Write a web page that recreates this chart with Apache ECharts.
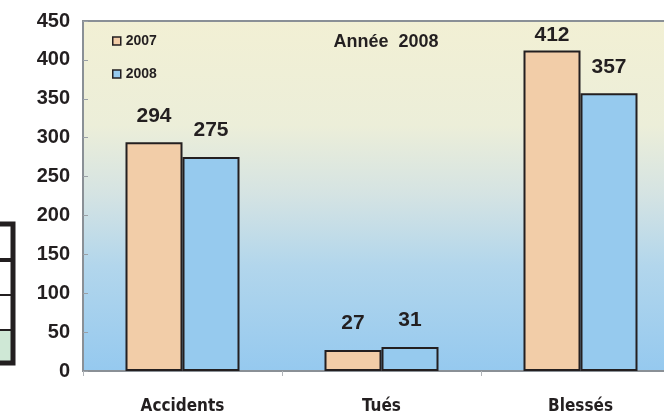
<!DOCTYPE html>
<html>
<head>
<meta charset="utf-8" />
<script src="https://cdn.jsdelivr.net/npm/echarts@6/dist/echarts.min.js"></script>
<style>
  html, body { margin: 0; padding: 0; background: #fff; }
  #main { width: 664px; height: 415px; }
</style>
</head>
<body>
<div id="main"></div>
<script>
// données
const categories = ["Accidents", "Tués", "Blessés"];
const seriesNames = ["2007", "2008"];
const values2007 = [294, 27, 412];
const values2008 = [275, 31, 357];
const yTicks = [0, 50, 100, 150, 200, 250, 300, 350, 400, 450];

const FONT = "'Liberation Sans', Arial, sans-serif";
const CONDENSED = "'DejaVu Sans Condensed', 'Liberation Sans', sans-serif";
const INK = "#231f20";

const myChart = echarts.init(document.getElementById("main"));

const barLabel = {
  show: true,
  position: "top",
  distance: 16,
  color: INK,
  fontFamily: FONT,
  fontWeight: "bold",
  fontSize: 21,
};

// le libellé 412 est collé à la barre dans l'original
const data2007 = values2007.map((v, i) =>
  i === 2 ? { value: v, label: { distance: 5 } } : v
);

const option = {
  animation: false,
  backgroundColor: "#fff",
  title: {
    text: "Année  2008",
    left: 381,
    top: 28,
    textAlign: "center",
    textStyle: {
      fontFamily: FONT,
      fontWeight: "bold",
      fontSize: 18,
      color: INK,
    },
  },
  legend: {
    orient: "vertical",
    left: 107,
    top: 29,
    itemGap: 19,
    itemWidth: 8,
    itemHeight: 8,
    icon: "rect",
    textStyle: { fontFamily: FONT, fontSize: 14, fontWeight: "bold", color: INK },
    data: seriesNames.map((n) => ({
      name: n,
      itemStyle: { borderColor: INK, borderWidth: 1.5 },
    })),
  },
  grid: {
    left: 83,
    top: 21,
    width: 597,
    height: 350,
    outerBoundsMode: "none",
    show: true,
    borderColor: "#8a9096",
    borderWidth: 2,
    backgroundColor: new echarts.graphic.LinearGradient(0, 0, 0, 1, [
      { offset: 0, color: "#f2f0d4" },
      { offset: 0.3, color: "#eceed9" },
      { offset: 0.5, color: "#d4e3e3" },
      { offset: 0.7, color: "#b2d6ec" },
      { offset: 1, color: "#95c9ef" },
    ]),
  },
  xAxis: {
    type: "category",
    data: categories,
    axisLine: { lineStyle: { color: "#8a9096", width: 2 } },
    axisTick: { show: true, length: 5, lineStyle: { color: "#b0b4b8" } },
    axisLabel: {
      margin: 27,
      color: INK,
      fontFamily: CONDENSED,
      fontWeight: "bold",
      fontSize: 17,
    },
  },
  yAxis: {
    type: "value",
    min: yTicks[0],
    max: yTicks[yTicks.length - 1],
    interval: yTicks[1] - yTicks[0],
    splitLine: { show: false },
    axisLine: { show: true, lineStyle: { color: "#8a9096", width: 2 } },
    axisTick: { show: true, inside: true, length: 5, lineStyle: { color: "#9aa0a6" } },
    axisLabel: {
      margin: 13,
      color: INK,
      fontFamily: FONT,
      fontWeight: "bold",
      fontSize: 20,
    },
  },
  series: [
    {
      name: seriesNames[0],
      type: "bar",
      data: data2007,
      barWidth: 57,
      barGap: "0%",
      itemStyle: { color: "#f2cda8", borderColor: INK, borderWidth: 2 },
      label: barLabel,
    },
    {
      name: seriesNames[1],
      type: "bar",
      data: values2008,
      barWidth: 57,
      barGap: "0%",
      itemStyle: { color: "#96caee", borderColor: INK, borderWidth: 2 },
      label: barLabel,
    },
  ],
  // fragment de tableau coupé sur le bord gauche
  graphic: [
    { type: "rect", shape: { x: -5, y: 330, width: 17, height: 31 }, style: { fill: "#cfe8d6" } },
    { type: "rect", shape: { x: -5, y: 224, width: 18, height: 139 }, style: { fill: "none", stroke: "#231f20", lineWidth: 5 } },
    { type: "line", shape: { x1: 0, y1: 260, x2: 13, y2: 260 }, style: { stroke: "#231f20", lineWidth: 4 } },
    { type: "line", shape: { x1: 0, y1: 295, x2: 13, y2: 295 }, style: { stroke: "#231f20", lineWidth: 2 } },
    { type: "line", shape: { x1: 0, y1: 330, x2: 13, y2: 330 }, style: { stroke: "#231f20", lineWidth: 2 } },
  ],
};

myChart.setOption(option);
</script>
</body>
</html>
